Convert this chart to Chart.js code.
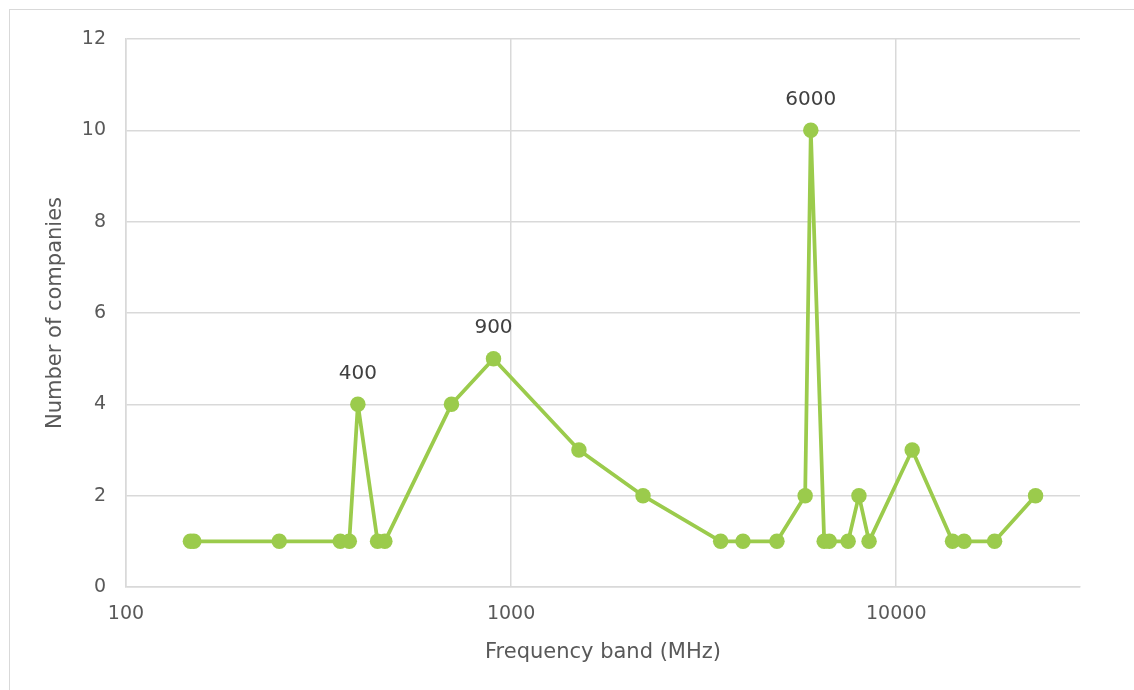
<!DOCTYPE html>
<html lang="en">
<head>
    <meta charset="UTF-8">
    <script src="https://cdn.jsdelivr.net/npm/chart.js"></script>
    <title>Frequency bands</title>
    <style>
        html, body {
            margin: 0;
            padding: 0;
            overflow: hidden;
            background: #ffffff;
        }
        #frame {
            position: absolute;
            left: 9px;
            top: 9px;
            width: 1200px;
            height: 800px;
            border: 1.5px solid #d9d9d9;
        }
        #wrap {
            position: absolute;
            left: 0;
            top: 0;
            width: 1134px;
            height: 690px;
        }
    </style>
</head>
<body>
<div id="frame"></div>
<div id="wrap"><canvas id="myChart"></canvas></div>
<script>
    // values
    const frequencies = [147, 150, 250, 360, 380, 400, 450, 470, 700, 900, 1500, 2200, 3500, 4000, 4900,
        5800, 6000, 6500, 6700, 7500, 8000, 8500, 11000, 14000, 15000, 18000, 23000];
    const companies = [1, 1, 1, 1, 1, 4, 1, 1, 4, 5, 3, 2, 1, 1, 1,
        2, 10, 1, 1, 1, 2, 1, 3, 1, 1, 1, 2];
    const labelled = [400, 900, 6000];
    const xTicks = [100, 1000, 10000];
    const yTicks = [0, 2, 4, 6, 8, 10, 12];

    const green = '#9bcb4c';
    const grey = '#d9d9d9';
    const textColor = '#595959';
    const fontName = '"DejaVu Sans", sans-serif';

    // draws the frequency above the marked points
    const pointLabels = {
        id: 'pointLabels',
        afterDatasetsDraw(chart) {
            const ctx = chart.ctx;
            const meta = chart.getDatasetMeta(0);
            ctx.save();
            ctx.font = '20px ' + fontName;
            ctx.fillStyle = '#404040';
            ctx.textAlign = 'center';
            ctx.textBaseline = 'middle';
            meta.data.forEach((pt, i) => {
                if (labelled.includes(frequencies[i])) {
                    ctx.fillText(String(frequencies[i]), pt.x, pt.y - 31);
                }
            });
            ctx.restore();
        }
    };

    const points = frequencies.map((f, i) => ({x: f, y: companies[i]}));

    new Chart(document.getElementById('myChart'), {
        type: 'line',
        data: {
            datasets: [{
                data: points,
                borderColor: green,
                backgroundColor: green,
                borderWidth: 3.75,
                borderJoinStyle: 'round',
                borderCapStyle: 'round',
                pointRadius: 7.75,
                pointBorderWidth: 0,
                pointBackgroundColor: green,
                tension: 0,
                fill: false
            }]
        },
        options: {
            responsive: true,
            maintainAspectRatio: false,
            animation: false,
            layout: {
                padding: {left: 0, right: 54, top: 39, bottom: 0}
            },
            plugins: {
                legend: {display: false},
                tooltip: {enabled: false}
            },
            scales: {
                x: {
                    type: 'logarithmic',
                    min: 100,
                    max: 30000,
                    afterBuildTicks: scale => {
                        scale.ticks = xTicks.map(v => ({value: v}));
                    },
                    afterFit: scale => {
                        scale.height = 103;
                    },
                    grid: {
                        color: grey,
                        lineWidth: 1.5,
                        drawTicks: false
                    },
                    border: {color: grey, width: 1.5},
                    ticks: {
                        color: textColor,
                        padding: 16,
                        maxRotation: 0,
                        autoSkip: false,
                        font: {family: fontName, size: 19},
                        callback: v => String(v)
                    },
                    title: {
                        display: true,
                        text: 'Frequency band (MHz)',
                        color: textColor,
                        font: {family: fontName, size: 21},
                        padding: {top: 0, bottom: 25}
                    }
                },
                y: {
                    min: 0,
                    max: 12,
                    afterBuildTicks: scale => {
                        scale.ticks = yTicks.map(v => ({value: v}));
                    },
                    afterFit: scale => {
                        scale.width = 126;
                    },
                    grid: {
                        color: grey,
                        lineWidth: 1.5,
                        drawTicks: false
                    },
                    border: {color: grey, width: 1.5},
                    ticks: {
                        color: textColor,
                        padding: 20,
                        font: {family: fontName, size: 19}
                    },
                    title: {
                        display: true,
                        text: 'Number of companies',
                        color: textColor,
                        font: {family: fontName, size: 21},
                        padding: {top: 43, bottom: 0}
                    }
                }
            }
        },
        plugins: [pointLabels]
    });
</script>
</body>
</html>
